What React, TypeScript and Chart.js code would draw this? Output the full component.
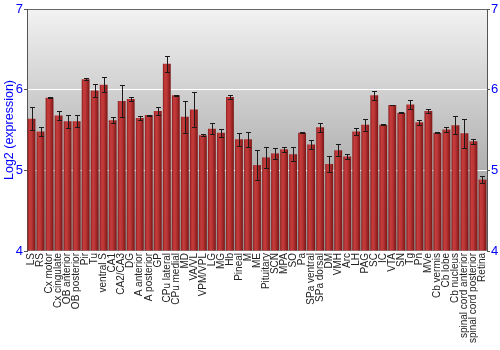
import React, { useEffect, useRef } from "react";
import { Chart, registerables } from "chart.js";

Chart.register(...registerables);

const regions: string[] = [
  "LS", "RS", "Cx motor", "Cx cingulate", "OB anterior", "OB posterior", "Pir", "Tu",
  "ventral S", "CA1", "CA2/CA3", "DG", "A anterior", "A posterior", "GP", "CPu lateral",
  "CPu medial", "MD", "VA/VL", "VPM/VPL", "LG", "MG", "Hb", "Pineal", "M", "ME",
  "Pituitary", "SCN", "MPA", "SO", "Pa", "SPa ventral", "SPa dorsal", "DM", "VMH", "Arc",
  "LH", "PAG", "SC", "IC", "VTA", "SN", "Tg", "Pn", "MVe", "Cb vermis", "Cb lobe",
  "Cb nucleus", "spinal cord anterior", "spinal cord posterior", "Retina",
];

const expression: number[] = [
  5.64, 5.48, 5.9, 5.68, 5.61, 5.61, 6.13, 5.99,
  6.06, 5.62, 5.86, 5.885, 5.65, 5.685, 5.735, 6.32,
  5.93, 5.665, 5.755, 5.435, 5.515, 5.465, 5.91, 5.385, 5.385, 5.065,
  5.16, 5.21, 5.26, 5.2, 5.465, 5.32, 5.535, 5.08, 5.25, 5.17,
  5.48, 5.565, 5.93, 5.565, 5.81, 5.715, 5.815, 5.595, 5.735, 5.465, 5.505,
  5.56, 5.46, 5.36, 4.885,
];

const stdError: number[] = [
  0.145, 0.06, 0.006, 0.05, 0.08, 0.07, 0.01, 0.085,
  0.095, 0.035, 0.195, 0.025, 0.02, 0.006, 0.045, 0.1,
  0.006, 0.2, 0.22, 0.015, 0.07, 0.05, 0.03, 0.08, 0.09, 0.19,
  0.125, 0.065, 0.035, 0.09, 0.006, 0.055, 0.055, 0.1, 0.075, 0.027,
  0.04, 0.075, 0.058, 0.006, 0.006, 0.008, 0.06, 0.03, 0.03, 0.006, 0.035,
  0.115, 0.18, 0.03, 0.04,
];

const yTicks: number[] = [4, 5, 6, 7];

const bgPlugin = {
  id: "bgGradient",
  beforeDraw(chart: any) {
    const { ctx, chartArea } = chart;
    if (!chartArea) return;
    const g = ctx.createLinearGradient(0, chartArea.top, 0, chartArea.bottom);
    g.addColorStop(0, "#f2f2f2");
    g.addColorStop(1, "#8e8e8e");
    ctx.save();
    ctx.fillStyle = g;
    ctx.fillRect(chartArea.left, chartArea.top, chartArea.right - chartArea.left, chartArea.bottom - chartArea.top);
    ctx.restore();
  },
};

const errorBarPlugin = {
  id: "errorBars",
  afterDatasetsDraw(chart: any) {
    const { ctx } = chart;
    const meta = chart.getDatasetMeta(0);
    const ys = chart.scales.y;
    ctx.save();
    ctx.strokeStyle = "#1a1a1a";
    ctx.lineWidth = 1;
    meta.data.forEach((bar: any, i: number) => {
      const v = expression[i];
      const e = stdError[i];
      const x = Math.round(bar.x) + 0.5;
      const yTop = Math.round(ys.getPixelForValue(v + e)) + 0.5;
      const yBot = Math.round(ys.getPixelForValue(v - e)) + 0.5;
      ctx.beginPath();
      ctx.moveTo(x, yTop);
      ctx.lineTo(x, yBot);
      ctx.moveTo(x - 2.5, yTop);
      ctx.lineTo(x + 2.5, yTop);
      ctx.moveTo(x - 2.5, yBot);
      ctx.lineTo(x + 2.5, yBot);
      ctx.stroke();
    });
    ctx.restore();
  },
};

function barColor(context: any) {
  const chart = context.chart;
  const xs = chart.scales && chart.scales.x;
  if (!chart.chartArea || !xs || context.dataIndex === undefined) return "#b03030";
  const cx = xs.getPixelForValue(context.dataIndex);
  const w = (chart.chartArea.right - chart.chartArea.left) / regions.length * 0.87;
  const g = chart.ctx.createLinearGradient(cx - w / 2, 0, cx + w / 2, 0);
  g.addColorStop(0, "#8a1c1c");
  g.addColorStop(0.25, "#c43c3c");
  g.addColorStop(0.5, "#bd3636");
  g.addColorStop(1, "#7a1515");
  return g;
}

export default function App() {
  const canvasRef = useRef<HTMLCanvasElement | null>(null);

  useEffect(() => {
    if (!canvasRef.current) return;
    const blue = "#0000ff";
    const chart = new Chart(canvasRef.current, {
      type: "bar",
      data: {
        labels: regions,
        datasets: [
          {
            data: expression,
            backgroundColor: barColor as any,
            borderWidth: 0,
            barPercentage: 0.87,
            categoryPercentage: 1,
            base: 4,
          } as any,
        ],
      },
      options: {
        animation: false,
        responsive: false,
        devicePixelRatio: 1,
        layout: { padding: { top: 9, left: 0, right: 0, bottom: 0 } },
        plugins: {
          legend: { display: false },
          tooltip: { enabled: false },
        },
        scales: {
          x: {
            type: "category",
            offset: true,
            grid: { display: false, drawTicks: false },
            border: { display: false },
            ticks: {
              autoSkip: false,
              minRotation: 90,
              maxRotation: 90,
              padding: 2,
              color: "#222222",
              font: { family: "'Liberation Sans', Arial, sans-serif", size: 10 },
            },
            afterFit(scale: any) {
              scale.height = 99;
            },
          },
          y: {
            type: "linear",
            position: "left",
            min: 4,
            max: 7,
            afterBuildTicks(scale: any) {
              scale.ticks = yTicks.map((v) => ({ value: v }));
            },
            grid: {
              color: (c: any) => {
                const v = c.tick && c.tick.value;
                if (v === 7) return "#666666";
                if (v === 5 || v === 6) return "#ffffff";
                return "rgba(0,0,0,0)";
              },
              tickColor: "#555555",
              tickLength: 3,
              lineWidth: 1,
            },
            border: { display: true, color: "#555555", width: 1 },
            ticks: {
              color: blue,
              padding: 1,
              font: { family: "'Liberation Sans', Arial, sans-serif", size: 13 },
            },
            title: {
              display: true,
              text: "Log2 (expression)",
              color: blue,
              padding: { top: 2, bottom: 0 },
              font: { family: "'Liberation Sans', Arial, sans-serif", size: 12.5 },
            },
            afterFit(scale: any) {
              scale.width = 27;
            },
          },
          y2: {
            type: "linear",
            position: "right",
            min: 4,
            max: 7,
            afterBuildTicks(scale: any) {
              scale.ticks = yTicks.map((v) => ({ value: v }));
            },
            grid: {
              drawOnChartArea: false,
              tickColor: "#555555",
              tickLength: 3,
            },
            border: { display: true, color: "#555555", width: 1 },
            ticks: {
              color: blue,
              padding: 1,
              font: { family: "'Liberation Sans', Arial, sans-serif", size: 13 },
            },
            afterFit(scale: any) {
              scale.width = 13;
            },
          },
        },
      },
      plugins: [bgPlugin, errorBarPlugin],
    });
    return () => chart.destroy();
  }, []);

  return (
    <div style={{ position: "fixed", left: 0, top: 0, width: 500, height: 350, background: "#ffffff" }}>
      <canvas ref={canvasRef} width={500} height={350} style={{ display: "block", width: 500, height: 350 }} />
    </div>
  );
}
